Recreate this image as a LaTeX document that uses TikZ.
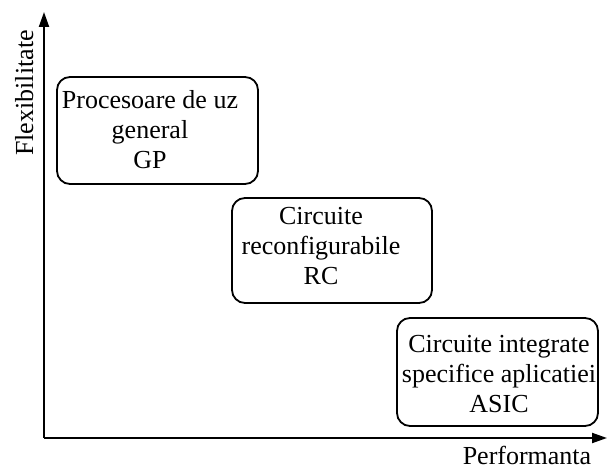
\documentclass[tikz,border=0pt]{standalone}
\usepackage{fontspec}
\setmainfont{Liberation Serif}
\usetikzlibrary{arrows.meta}
\begin{document}
\begin{tikzpicture}[x=1pt,y=1pt,
  axis/.style={line width=2pt,-{Triangle[length=15pt,width=10pt]}},
  zone/.style={draw,line width=1.8pt,rounded corners=13pt,inner sep=0pt},
  zonetext/.style={align=center,inner sep=0pt,font=\fontsize{26}{30}\selectfont},
  axislabel/.style={inner sep=0pt,font=\fontsize{26}{30}\selectfont}]
  \useasboundingbox (0,0) rectangle (608,470);

  % axes
  \coordinate (o) at (44,32);
  \coordinate (ytip) at (44,458);
  \coordinate (xtip) at (607,32);
  \draw[axis] (o) -- (ytip);
  \draw[axis] (o) -- (xtip);
  \node[axislabel,rotate=90,anchor=base] (ylab) at (33,377) {Flexibilitate};
  \node[axislabel,anchor=base] (xlab) at (527,5) {Performanta};

  % the three classes of circuits
  \node[zone,minimum width=201pt,minimum height=107pt] (gp) at (157.5,339.5) {};
  \node[zonetext] (gptext) at (150,340) {Procesoare de uz\\general\\GP};

  \node[zone,minimum width=200pt,minimum height=105pt] (rc) at (332,219.5) {};
  \node[zonetext] (rctext) at (321,224) {Circuite\\reconfigurabile\\RC};

  \node[zone,minimum width=201pt,minimum height=108pt] (asic) at (497.5,98) {};
  \node[zonetext] (asictext) at (499,96) {Circuite integrate\\specifice aplicatiei\\ASIC};
\end{tikzpicture}
\end{document}
